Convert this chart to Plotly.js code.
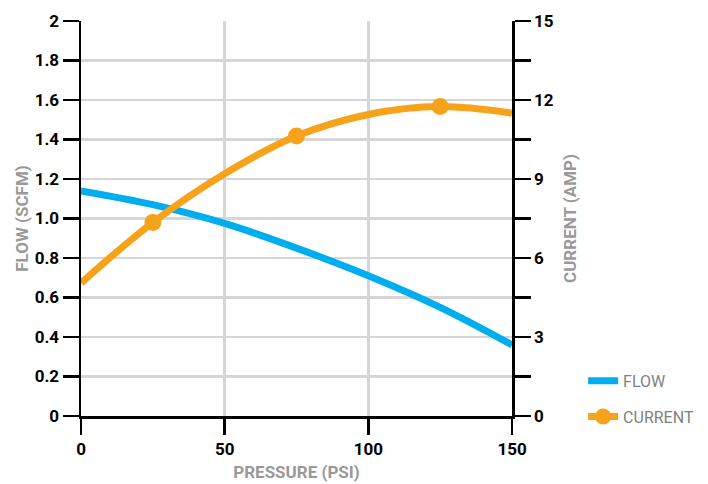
<!DOCTYPE html>
<html><head><meta charset="utf-8">
<script src="https://cdn.plot.ly/plotly-3.0.1.min.js"></script>
<style>body{margin:0;background:#fff}#c{width:708px;height:484px}</style>
</head><body><div id="c"></div>
<script>
var pressure = [0, 25, 50, 75, 100, 125, 150];
var flow = [1.14, 1.07, 0.975, 0.85, 0.71, 0.55, 0.36];
var current = [5.05, 7.35, 9.2, 10.63, 11.45, 11.75, 11.5];
var markerPressure = [25, 75, 125];
var markerCurrent = [7.35, 10.63, 11.75];
var flowTicks = [0, 0.2, 0.4, 0.6, 0.8, 1.0, 1.2, 1.4, 1.6, 1.8, 2];
var flowTickText = ['0','0.2','0.4','0.6','0.8','1.0','1.2','1.4','1.6','1.8','2'];
var ampTicks = [0, 1.5, 3, 4.5, 6, 7.5, 9, 10.5, 12, 13.5, 15];
var ampTickText = ['0','','3','','6','','9','','12','','15'];
var xTicks = [0, 50, 100, 150];

var FONT = 'Roboto, "Liberation Sans", sans-serif';
var BLUE = '#00aeef', ORANGE = '#f7a21b';

var traces = [
  {x: pressure, y: flow, name: 'FLOW', mode: 'lines', legendgroup: 'f', line: {color: BLUE, width: 7, shape: 'spline'}},
  {x: pressure, y: current, name: 'CURRENT', mode: 'lines', legendgroup: 'c', line: {color: ORANGE, width: 7, shape: 'spline'}, yaxis: 'y2', showlegend: false},
  {x: markerPressure, y: markerCurrent, name: 'CURRENT', mode: 'markers', legendgroup: 'c', marker: {color: ORANGE, size: 17}, yaxis: 'y2', showlegend: false},
  {x: [null], y: [null], name: 'CURRENT', mode: 'lines+markers', legendgroup: 'c', line: {color: ORANGE, width: 7}, marker: {color: ORANGE, size: 17}, yaxis: 'y2'}
];

var layout = {
  width: 708, height: 484,
  margin: {l: 81, r: 196, t: 21, b: 68, autoexpand: false},
  paper_bgcolor: '#fff', plot_bgcolor: '#fff',
  font: {family: FONT, size: 16, color: '#000'},
  showlegend: true,
  legend: {x: 1.165, y: -0.045, xanchor: 'left', yanchor: 'bottom', font: {family: FONT, size: 16, color: '#808080'}, tracegroupgap: 12, itemwidth: 30},
  xaxis: {
    range: [0, 150], tickvals: xTicks, showgrid: true, gridcolor: '#d6d6d6', gridwidth: 2.5,
    showline: true, linecolor: '#000', linewidth: 2.5, ticks: 'outside', ticklen: 16, tickwidth: 2.5, tickcolor: '#000',
    tickfont: {family: FONT, size: 17, color: '#000', weight: 'bold'}, zeroline: false,
    title: {text: 'PRESSURE (PSI)', font: {family: FONT, size: 17, color: '#999', weight: 'bold'}, standoff: 8}
  },
  yaxis: {
    range: [0, 2], tickvals: flowTicks, ticktext: flowTickText, showgrid: true, gridcolor: '#d6d6d6', gridwidth: 2.5,
    showline: true, linecolor: '#000', linewidth: 2.5, ticks: 'outside', ticklen: 16, tickwidth: 2.5, tickcolor: '#000',
    tickfont: {family: FONT, size: 17, color: '#000', weight: 'bold'}, zeroline: false,
    title: {text: 'FLOW (SCFM)', font: {family: FONT, size: 17, color: '#999', weight: 'bold'}, standoff: 2}
  },
  yaxis2: {
    range: [0, 15], overlaying: 'y', side: 'right', tickvals: ampTicks, ticktext: ampTickText, showgrid: false,
    showline: true, linecolor: '#000', linewidth: 2.5, ticks: 'outside', ticklen: 16, tickwidth: 2.5, tickcolor: '#000',
    tickfont: {family: FONT, size: 17, color: '#000', weight: 'bold'}, zeroline: false,
    title: {text: 'CURRENT (AMP)', font: {family: FONT, size: 17, color: '#999', weight: 'bold'}, standoff: 12}
  }
};
Plotly.newPlot('c', traces, layout, {displayModeBar: false, staticPlot: true});
</script></body></html>
